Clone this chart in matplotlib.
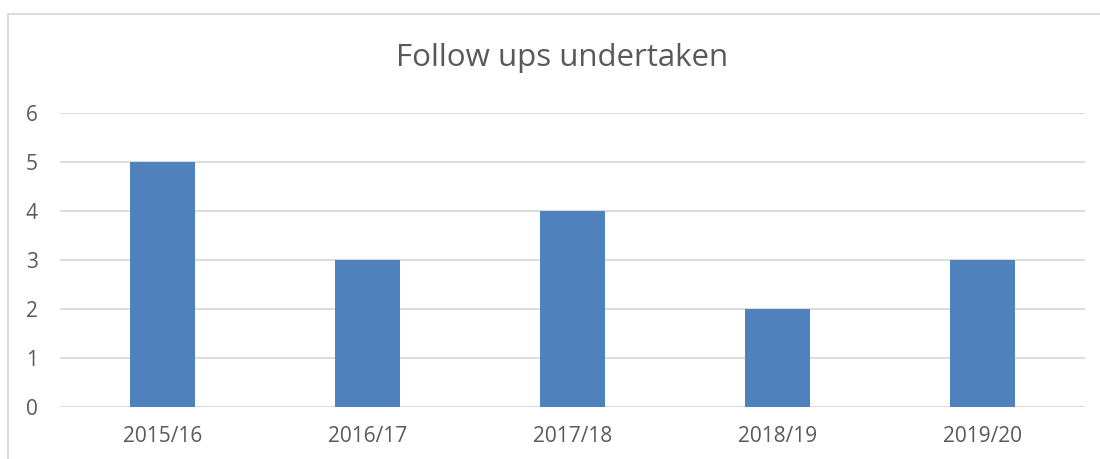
import matplotlib
matplotlib.use("Agg")
import matplotlib.pyplot as plt
from matplotlib.lines import Line2D

categories = ["2015/16", "2016/17", "2017/18", "2018/19", "2019/20"]
values = [5, 3, 4, 2, 3]
yticks = [0, 1, 2, 3, 4, 5, 6]
title = "Follow ups undertaken"

plt.rcParams['font.family'] = ['Open Sans', 'DejaVu Sans']
W, H = 1100, 459
fig = plt.figure(figsize=(W/100, H/100), dpi=100)
ax = fig.add_axes([60/W, 52/H, 1025/W, (407-113)/H])

x = list(range(len(categories)))
ax.bar(x, values, width=0.317, color="#4F81BD", zorder=3)
ax.set_xlim(-0.5, len(categories)-0.5)
ax.set_ylim(0, 6)
ax.set_yticks(yticks)
ax.set_xticks(x)
ax.set_xticklabels(categories)
ax.grid(axis="y", color="#D9D9D9", linewidth=1.3, zorder=0)
for s in ax.spines.values():
    s.set_visible(False)
ax.tick_params(length=0, labelsize=15, labelcolor="#595959")
ax.tick_params(axis="y", pad=16)
ax.tick_params(axis="x", pad=14)

fig.text(562/W, 1-58/H, title, ha="center", va="center", fontsize=22.5, color="#595959")

# chart border
bc = "#D9D9D9"
fig.add_artist(Line2D([8/W, 8/W], [0, 1-14/H], color=bc, lw=1.3, transform=fig.transFigure))
fig.add_artist(Line2D([8/W, 1], [1-14/H, 1-14/H], color=bc, lw=1.3, transform=fig.transFigure))

fig.savefig("out.png", dpi=100)
